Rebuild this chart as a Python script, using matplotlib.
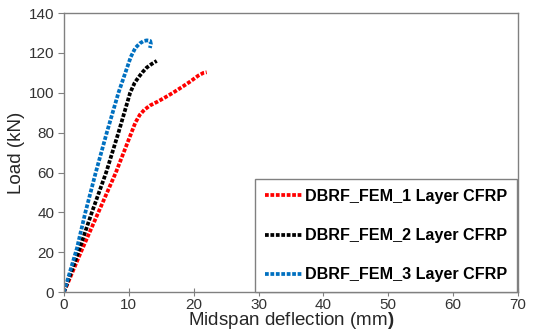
import matplotlib
matplotlib.use('Agg')
import matplotlib.pyplot as plt

plt.rcParams['font.family'] = ['Liberation Sans', 'DejaVu Sans']
plt.rcParams['mathtext.fontset'] = 'custom'
plt.rcParams['mathtext.rm'] = 'Liberation Sans'
plt.rcParams['mathtext.bf'] = 'Liberation Sans:bold'

# deflection (mm) / load (kN)
x_1layer = [0, 2.6, 5.3, 8.0, 10.4, 11.0, 11.7, 12.4, 13.25, 14.4, 15.6, 16.8, 18.1, 19.4, 20.7, 21.5, 22.0]
y_1layer = [0, 20, 40, 60, 80, 85, 89, 91.5, 93.6, 95.5, 97.7, 100, 102.7, 105.5, 108.6, 110, 110.3]

x_2layer = [0, 2.1, 4.3, 6.5, 8.4, 10.2, 10.9, 11.45, 12.1, 12.74, 13.5, 14.3]
y_2layer = [0, 19, 40, 60, 80, 100, 105, 107.6, 110.3, 112.6, 114.4, 116]

x_3layer = [0, 1.0, 2.0, 3.3, 4.9, 6.6, 8.4, 10.3, 11.0, 11.7, 12.3, 12.8, 13.3, 13.4, 13.25]
y_3layer = [0, 11, 22, 40, 60, 80, 100, 118, 122.5, 124.8, 126, 126.3, 126, 124.5, 122.5]

labels = ['DBRF_FEM_1 Layer CFRP', 'DBRF_FEM_2 Layer CFRP', 'DBRF_FEM_3 Layer CFRP']
colors = ['#FF0000', '#000000', '#0070C0']

fig = plt.figure(figsize=(5.33, 3.35), dpi=100)
ax = fig.add_axes([0.120, 0.128, 0.852, 0.833])

style = (0, (1, 0.45))
ax.plot(x_1layer, y_1layer, color=colors[0], lw=2.7, linestyle=style, label=labels[0])
ax.plot(x_2layer, y_2layer, color=colors[1], lw=2.7, linestyle=style, label=labels[1])
ax.plot(x_3layer, y_3layer, color=colors[2], lw=2.7, linestyle=style, label=labels[2])

ax.set_xlim(0, 70)
ax.set_ylim(0, 140)
ax.set_xticks(range(0, 71, 10))
ax.set_yticks(range(0, 141, 20))

for s in ax.spines.values():
    s.set_color('#808080')
    s.set_linewidth(1.0)
ax.tick_params(axis='x', direction='inout', length=6, color='#808080', labelsize=11, labelcolor='#333333', pad=1)
ax.tick_params(axis='y', direction='out', length=4, color='#808080', labelsize=11, labelcolor='#333333', pad=3)

ax.set_xlabel(r'Midspan deflection (mm$\mathbf{)}$', fontsize=13.5, color='#262626', labelpad=-1)
ax.set_ylabel('Load (kN)', fontsize=13.5, color='#262626', labelpad=3)

leg = ax.legend(loc='lower right', bbox_to_anchor=(0.997, 0.0), prop={'weight': 'bold', 'size': 11.6},
                frameon=True, fancybox=False, edgecolor='#808080', framealpha=1,
                labelspacing=1.5, handlelength=2.3, handletextpad=0.2, borderpad=0.6, borderaxespad=0)
leg.get_frame().set_linewidth(1.0)

fig.savefig('out.png', dpi=100)
